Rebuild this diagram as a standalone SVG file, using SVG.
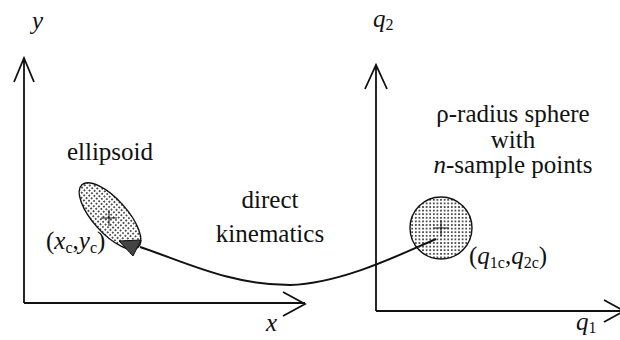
<svg xmlns="http://www.w3.org/2000/svg" width="620" height="340" viewBox="0 0 620 340">
<style>
  text { font-family: "Liberation Serif", "Times New Roman", serif; fill: #111; }
  .lbl { font-size: 25px; }
  .it { font-style: italic; }
  .sub { font-size: 16px; }
  .axis { fill: none; stroke: #111; stroke-width: 1.8; }
  .thin { fill: none; stroke: #111; stroke-width: 1; }
  .conn { fill: none; stroke: #111; stroke-width: 2; }
</style>
<defs>
  <pattern id="dots" width="3.6" height="3.6" patternUnits="userSpaceOnUse">
    <rect width="3.6" height="3.6" fill="#fff"/>
    <circle cx="1.8" cy="1.8" r="0.9" fill="#111"/>
  </pattern>
</defs>
<rect width="620" height="340" fill="#fff"/>

<g id="workspace-axes">
  <path class="axis" d="M24,303 V59 M14,82 L24,58 L34,82 M24,303 H305 M283,292 L305,304 L283,316"/>
  <text class="lbl it" x="32" y="29">y</text>
  <text class="lbl it" x="266" y="331">x</text>
</g>

<g id="joint-axes">
  <path class="axis" d="M376,311 V66 M365,89 L376,65 L387,89 M376,311 H622 M604,300 L624,311 L604,322"/>
  <text class="lbl it" x="373" y="27">q<tspan class="sub" font-style="normal" dy="3">2</tspan></text>
  <text class="lbl it" x="576" y="330">q<tspan class="sub" font-style="normal" dy="3">1</tspan></text>
</g>

<g id="ellipsoid">
  <ellipse cx="110" cy="216" rx="42" ry="17" transform="rotate(48 110 216)" fill="url(#dots)" stroke="#111" stroke-width="1.4"/>
  <path class="thin" d="M101,218 H117 M109,210 V226"/>
  <text class="lbl" x="110" y="160" text-anchor="middle">ellipsoid</text>
  <text class="lbl" x="46" y="249"><tspan>(</tspan><tspan class="it">x</tspan><tspan class="sub" dy="4">c</tspan><tspan dy="-4">,</tspan><tspan class="it">y</tspan><tspan class="sub" dy="4">c</tspan><tspan dy="-4">)</tspan></text>
</g>

<g id="sphere">
  <circle cx="441" cy="228" r="31" fill="url(#dots)" stroke="#111" stroke-width="1.4"/>
  <path class="thin" d="M433,228 H449 M441,220 V236"/>
  <text class="lbl" x="513" y="122" text-anchor="middle">ρ-radius sphere</text>
  <text class="lbl" x="513" y="148" text-anchor="middle">with</text>
  <text class="lbl" x="513" y="173" text-anchor="middle"><tspan class="it">n</tspan>-sample points</text>
  <text class="lbl" x="469" y="264"><tspan>(</tspan><tspan class="it">q</tspan><tspan class="sub" dy="4">1c</tspan><tspan dy="-4">,</tspan><tspan class="it">q</tspan><tspan class="sub" dy="4">2c</tspan><tspan dy="-4">)</tspan></text>
</g>

<g id="connectors">
  <path class="conn" d="M436,239 C405,252 345,283 290,285 C230,285 185,262 140,247"/>
  <polygon points="119,241 141,240 133,256" fill="#444" stroke="#111" stroke-width="1"/>
  <text class="lbl" x="270" y="208" text-anchor="middle">direct</text>
  <text class="lbl" x="270" y="242" text-anchor="middle">kinematics</text>
</g>
</svg>
